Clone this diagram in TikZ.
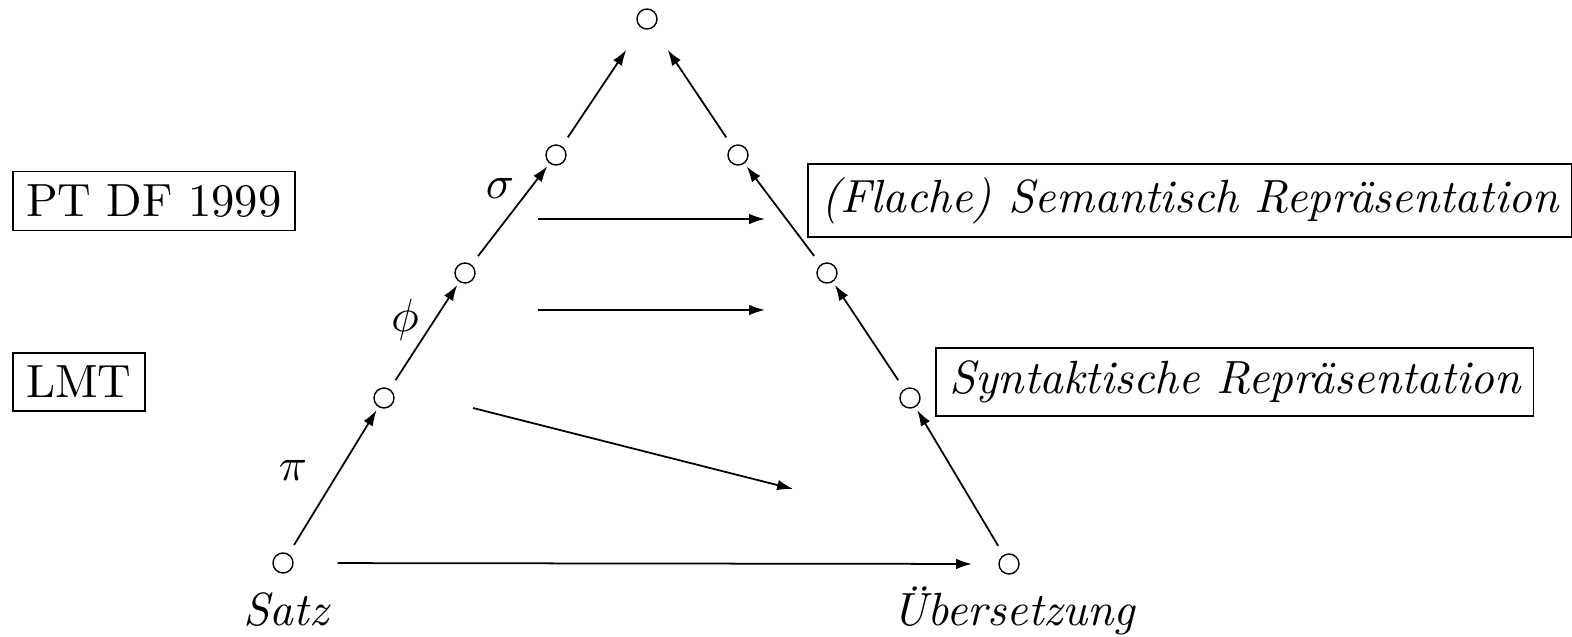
\documentclass[tikz,border=0pt]{standalone}
\usepackage{amsmath,amssymb}
\usepackage{graphicx}
\usepackage{tikz}
\usetikzlibrary{arrows.meta,positioning}
\newcommand{\bigtxt}[1]{\scalebox{2.65}{#1}}

\begin{document}
\begin{tikzpicture}[>={Latex[length=9pt,width=6pt]},line width=1pt]
\tikzstyle{pt}=[circle,draw,line width=0.8pt,minimum size=4mm,inner sep=0pt]
\tikzstyle{lab}=[draw,inner sep=7.5pt,anchor=west]
\tikzstyle{up}=[->,shorten <=6pt,shorten >=2pt]
\useasboundingbox (0,0) rectangle (31.44,12.72);
% pyramid
\node[pt] (top) at (12.94,12.34) {};
\node[pt] (satz) at (5.66,1.46) {};
\node[pt] (l2) at (7.68,4.76) {};
\node[pt] (l3) at (9.30,7.26) {};
\node[pt] (l4) at (11.12,9.62) {};
\node[pt] (ueb) at (20.18,1.44) {};
\node[pt] (r2) at (18.20,4.76) {};
\node[pt] (r3) at (16.54,7.26) {};
\node[pt] (r4) at (14.76,9.62) {};
\draw[up] (satz)--(l2);
\draw[up] (l2)--(l3);
\draw[up] (l3)--(l4);
\draw[up,shorten >=15pt] (l4)--(top);
\draw[up] (ueb)--(r2);
\draw[up] (r2)--(r3);
\draw[up] (r3)--(r4);
\draw[up,shorten >=15pt] (r4)--(top);
\node (pi) at (5.86,3.32) {\bigtxt{$\pi$}};
\node (phi) at (8.10,6.32) {\bigtxt{$\phi$}};
\node (sigma) at (10.0,8.96) {\bigtxt{$\sigma$}};
\node[anchor=base] (satzlab) at (5.72,0.22) {\bigtxt{\itshape Satz}};
\node[anchor=base] (ueblab) at (20.28,0.22) {\bigtxt{\itshape Übersetzung}};
% transfer arrows
\coordinate (s1) at (10.76,8.34);
\coordinate (e1) at (15.30,8.34);
\coordinate (s2) at (10.76,6.52);
\coordinate (e2) at (15.30,6.52);
\coordinate (s3) at (9.46,4.56);
\coordinate (e3) at (15.86,2.94);
\draw[->] (s1)--(e1);
\draw[->] (s2)--(e2);
\draw[->] (s3)--(e3);
\draw[->,shorten <=25pt,shorten >=15pt] (satz)--(ueb);
% levels
\node[lab] (ptdf) at (0.24,8.70) {\bigtxt{PT DF 1999}};
\node[lab] (lmt) at (0.24,5.08) {\bigtxt{LMT}};
\node[lab] (sem) at (16.14,8.71) {\bigtxt{\itshape (Flache) Semantisch Repräsentation}};
\node[lab] (syn) at (18.70,5.08) {\bigtxt{\itshape Syntaktische Repräsentation}};
\end{tikzpicture}
\end{document}
